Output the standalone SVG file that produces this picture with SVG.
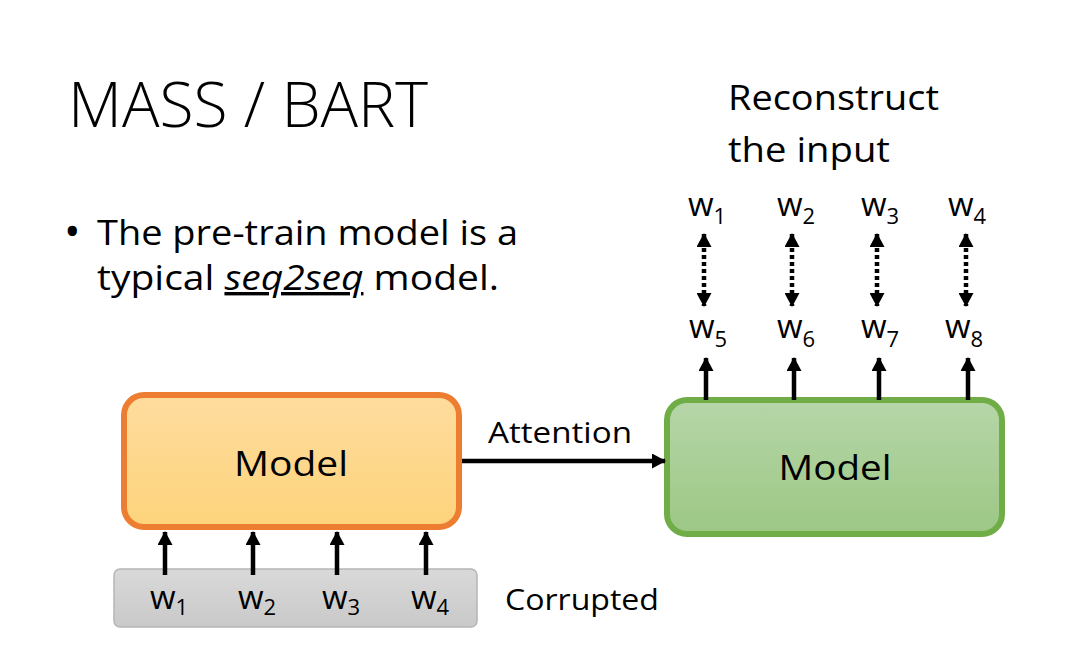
<svg xmlns="http://www.w3.org/2000/svg" width="1072" height="650" viewBox="0 0 1072 650">
<defs>
<linearGradient id="gOrange" x1="0" y1="0" x2="0" y2="1"><stop offset="0" stop-color="#fedc9e"/><stop offset="1" stop-color="#fdd37b"/></linearGradient>
<linearGradient id="gGreen" x1="0" y1="0" x2="0" y2="1"><stop offset="0" stop-color="#b6d6a8"/><stop offset="1" stop-color="#9cc784"/></linearGradient>
<linearGradient id="gGray" x1="0" y1="0" x2="0" y2="1"><stop offset="0" stop-color="#d9d9d9"/><stop offset="1" stop-color="#c9c9c9"/></linearGradient>
<marker id="ah" viewBox="0 0 14 15" refX="13" refY="7.5" markerWidth="14" markerHeight="15" markerUnits="userSpaceOnUse" orient="auto-start-reverse"><path d="M0,0 L14,7.5 L0,15 Z" fill="#000"/></marker>
</defs>
<style>
text{font-family:"Open Sans","Liberation Sans",sans-serif;fill:#000}
.w{font-size:33px}
.s{font-size:22px}
.arr{stroke:#000;stroke-width:4.5;fill:none}
.dot{stroke:#000;stroke-width:4.5;fill:none;stroke-dasharray:4 3}
</style>
<rect width="1072" height="650" fill="#fff"/>
<g id="title"><text x="68" y="127" font-size="62" font-weight="300" textLength="360" lengthAdjust="spacingAndGlyphs">MASS / BART</text></g>
<g id="bullet">
<text x="64" y="247" font-size="44">•</text>
<text x="97" y="245" font-size="34" textLength="421" lengthAdjust="spacingAndGlyphs">The pre-train model is a</text>
<text x="97" y="290" font-size="34" textLength="402" lengthAdjust="spacingAndGlyphs">typical <tspan font-style="italic" text-decoration="underline">seq2seq</tspan> model.</text>
</g>
<g id="reconstruct">
<text x="728" y="110" font-size="34" textLength="211" lengthAdjust="spacingAndGlyphs">Reconstruct</text>
<text x="728" y="162" font-size="34" textLength="162" lengthAdjust="spacingAndGlyphs">the input</text>
</g>
<g id="corrupted-input">
<rect x="114" y="569" width="363" height="58" rx="6" fill="url(#gGray)" stroke="#b5b5b5" stroke-width="1.5"/>
<text class="w" x="150" y="609">w<tspan class="s" dy="6">1</tspan></text>
<text class="w" x="238" y="609">w<tspan class="s" dy="6">2</tspan></text>
<text class="w" x="322" y="609">w<tspan class="s" dy="6">3</tspan></text>
<text class="w" x="411" y="609">w<tspan class="s" dy="6">4</tspan></text>
</g>
<g id="corrupted-label"><text x="505" y="610" font-size="30" textLength="154" lengthAdjust="spacingAndGlyphs">Corrupted</text></g>
<g id="encoder">
<rect x="124" y="395" width="335" height="132" rx="20" fill="url(#gOrange)" stroke="#ed7d31" stroke-width="6"/>
<text x="291" y="476" font-size="34" text-anchor="middle" textLength="114" lengthAdjust="spacingAndGlyphs">Model</text>
</g>
<g id="decoder">
<rect x="667" y="400" width="335" height="134" rx="20" fill="url(#gGreen)" stroke="#70ad47" stroke-width="6"/>
<text x="835" y="480" font-size="34" text-anchor="middle" textLength="113" lengthAdjust="spacingAndGlyphs">Model</text>
</g>
<g id="outputs">
<text class="w" x="689" y="338">w<tspan class="s" dy="9">5</tspan></text>
<text class="w" x="777" y="338">w<tspan class="s" dy="9">6</tspan></text>
<text class="w" x="861" y="338">w<tspan class="s" dy="9">7</tspan></text>
<text class="w" x="945" y="338">w<tspan class="s" dy="9">8</tspan></text>
</g>
<g id="targets">
<text class="w" x="688" y="216">w<tspan class="s" dy="8">1</tspan></text>
<text class="w" x="777" y="216">w<tspan class="s" dy="8">2</tspan></text>
<text class="w" x="861" y="216">w<tspan class="s" dy="8">3</tspan></text>
<text class="w" x="948" y="216">w<tspan class="s" dy="8">4</tspan></text>
</g>
<g id="attention-label"><text x="488" y="443" font-size="30" textLength="144" lengthAdjust="spacingAndGlyphs">Attention</text></g>
<g id="connectors">
<line class="arr" x1="462" y1="461" x2="665" y2="461" marker-end="url(#ah)"/>
<line class="arr" x1="165" y1="575" x2="165" y2="532" marker-end="url(#ah)"/>
<line class="arr" x1="253" y1="575" x2="253" y2="532" marker-end="url(#ah)"/>
<line class="arr" x1="337" y1="575" x2="337" y2="532" marker-end="url(#ah)"/>
<line class="arr" x1="426" y1="575" x2="426" y2="532" marker-end="url(#ah)"/>
<line class="arr" x1="706" y1="400" x2="706" y2="358" marker-end="url(#ah)"/>
<line class="arr" x1="794" y1="400" x2="794" y2="358" marker-end="url(#ah)"/>
<line class="arr" x1="879" y1="400" x2="879" y2="358" marker-end="url(#ah)"/>
<line class="arr" x1="968" y1="400" x2="968" y2="358" marker-end="url(#ah)"/>
<line class="dot" x1="704" y1="234" x2="704" y2="306" marker-start="url(#ah)" marker-end="url(#ah)"/>
<line class="dot" x1="792" y1="234" x2="792" y2="306" marker-start="url(#ah)" marker-end="url(#ah)"/>
<line class="dot" x1="877" y1="234" x2="877" y2="306" marker-start="url(#ah)" marker-end="url(#ah)"/>
<line class="dot" x1="966" y1="234" x2="966" y2="306" marker-start="url(#ah)" marker-end="url(#ah)"/>
</g>
</svg>
